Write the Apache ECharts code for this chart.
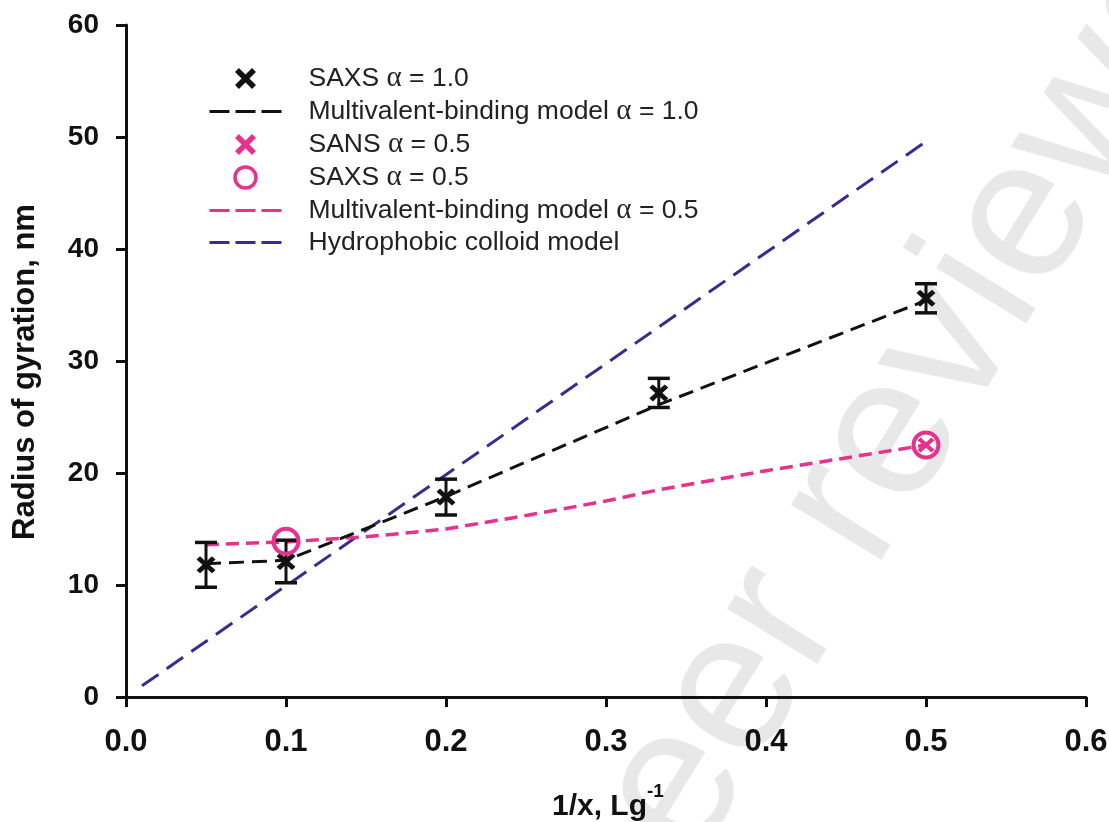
<!DOCTYPE html>
<html>
<head>
<meta charset="utf-8">
<title>Radius of gyration vs 1/x</title>
<script src="https://cdn.jsdelivr.net/npm/echarts@6/dist/echarts.min.js"></script>
<style>
  html, body { margin: 0; padding: 0; background: #fff; }
  #chart { width: 1109px; height: 822px; }
</style>
</head>
<body>
<div id="chart"></div>
<script>
// ---- data ----
const xTicks = [0, 0.1, 0.2, 0.3, 0.4, 0.5, 0.6];
const xTickLabels = ['0.0', '0.1', '0.2', '0.3', '0.4', '0.5', '0.6'];
const yTicks = [0, 10, 20, 30, 40, 50, 60];

// SAXS, alpha = 1.0 (mean and half-width of error bar)
const saxs10X = [0.05, 0.1, 0.2, 0.333, 0.5];
const saxs10Y = [11.8, 12.1, 17.85, 27.15, 35.6];
const saxs10Err = [2.0, 1.9, 1.6, 1.3, 1.3];

// Multivalent-binding model, alpha = 1.0
const model10X = [0.05, 0.1, 0.2, 0.333, 0.5];
const model10Y = [11.9, 12.2, 17.9, 26.1, 35.4];

// SANS, alpha = 0.5
const sans05X = [0.5];
const sans05Y = [22.5];

// SAXS, alpha = 0.5
const saxs05X = [0.1, 0.5];
const saxs05Y = [13.9, 22.5];

// Multivalent-binding model, alpha = 0.5
const model05X = [0.05, 0.1, 0.15, 0.2, 0.25, 0.3, 0.333, 0.4, 0.5];
const model05Y = [13.6, 13.85, 14.3, 15.0, 16.2, 17.5, 18.5, 20.2, 22.5];

// Hydrophobic colloid model
const colloidX = [0.01, 0.5];
const colloidY = [1.0, 49.6];

// ---- styles ----
const BLACK = '#111111';
const PINK = '#e8318c';
const PURPLE = '#3d2a8e';
const CLEAR = 'rgba(255,255,255,0)';
const SANS = 'Liberation Sans, Arial, Helvetica, sans-serif';
const SERIF = 'Liberation Serif, Times New Roman, serif';
const CROSS = 'path://M0,3 L3,0 L8,5 L13,0 L16,3 L11,8 L16,13 L13,16 L8,11 L3,16 L0,13 L5,8 Z';

const pairs = (xs, ys) => xs.map((x, i) => [x, ys[i]]);
const errRows = saxs10X.map((x, i) => [x, saxs10Y[i] - saxs10Err[i], saxs10Y[i] + saxs10Err[i]]);

// legend entry for a dashed model line: line only, no marker
const lineEntry = (name, color) => ({
  name,
  itemStyle: { opacity: 0 },
  lineStyle: { color, width: 3, type: [20, 6] }
});

const chart = echarts.init(document.getElementById('chart'), null, { renderer: 'canvas' });

const option = {
  backgroundColor: '#ffffff',
  animation: false,
  grid: { left: 126, right: 23, top: 25, bottom: 125, containLabel: false, outerBoundsMode: 'none' },
  xAxis: {
    type: 'value',
    min: 0, max: 0.6, interval: 0.1,
    axisLine: { show: true, onZero: false, lineStyle: { color: BLACK, width: 3 } },
    axisTick: { show: true, inside: false, length: 10, lineStyle: { color: BLACK, width: 3 } },
    axisLabel: {
      margin: 30, color: BLACK, fontFamily: SANS, fontWeight: 'bold', fontSize: 31,
      formatter: v => xTickLabels[xTicks.findIndex(t => Math.abs(t - v) < 1e-9)] ?? v.toFixed(1)
    },
    splitLine: { show: false }
  },
  yAxis: {
    type: 'value',
    min: 0, max: 60, interval: 10,
    axisLine: { show: true, onZero: false, lineStyle: { color: BLACK, width: 3 } },
    axisTick: { show: true, inside: false, length: 10, lineStyle: { color: BLACK, width: 3 } },
    axisLabel: {
      margin: 27, color: BLACK, fontFamily: SANS, fontWeight: 'bold', fontSize: 28,
      formatter: v => String(yTicks.find(t => t === v) ?? v)
    },
    splitLine: { show: false }
  },
  legend: {
    orient: 'vertical',
    left: 208, top: 64,
    padding: 0,
    itemWidth: 72, itemHeight: 21, itemGap: 4,
    selectedMode: false,
    textStyle: {
      fontFamily: SANS, fontSize: 26.5, color: '#222222', lineHeight: 26,
      padding: [0, 0, 0, 22],
      rich: { a: { fontFamily: SERIF, fontSize: 29, color: '#222222' } }
    },
    formatter: name => name.replace('α', '{a|α}'),
    data: [
      'SAXS α = 1.0',
      lineEntry('Multivalent-binding model α = 1.0', BLACK),
      'SANS α = 0.5',
      { name: 'SAXS α = 0.5', itemStyle: { color: CLEAR, borderColor: PINK, borderWidth: 3.5 } },
      lineEntry('Multivalent-binding model α = 0.5', PINK),
      lineEntry('Hydrophobic colloid model', PURPLE)
    ]
  },
  graphic: [
    {
      // diagonal page watermark
      type: 'text', z: -10, silent: true,
      x: 632, y: 860, rotation: 1.02,
      style: {
        text: 'Preprint not peer reviewed',
        fill: '#e8e8e8',
        font: 'normal 200px ' + SANS,
        align: 'center', verticalAlign: 'middle'
      }
    },
    {
      type: 'text', silent: true,
      x: 25, y: 372, rotation: Math.PI / 2,
      style: {
        text: 'Radius of gyration, nm', fill: BLACK,
        font: 'bold 31px ' + SANS, align: 'center', verticalAlign: 'middle'
      }
    },
    {
      type: 'text', silent: true,
      x: 647, y: 807,
      style: {
        text: '1/x, Lg', fill: BLACK,
        font: 'bold 30px ' + SANS, align: 'right', verticalAlign: 'middle'
      }
    },
    {
      type: 'text', silent: true,
      x: 647, y: 792,
      style: {
        text: '-1', fill: BLACK,
        font: 'bold 19px ' + SANS, align: 'left', verticalAlign: 'middle'
      }
    }
  ],
  series: [
    {
      name: 'Hydrophobic colloid model',
      type: 'line', symbol: 'none', z: 2,
      data: pairs(colloidX, colloidY),
      lineStyle: { color: PURPLE, width: 3, type: [20, 10] },
      itemStyle: { color: PURPLE }
    },
    {
      name: 'Multivalent-binding model α = 0.5',
      type: 'line', symbol: 'none', z: 3,
      data: pairs(model05X, model05Y),
      lineStyle: { color: PINK, width: 3.5, type: [13, 7] },
      itemStyle: { color: PINK }
    },
    {
      name: 'Multivalent-binding model α = 1.0',
      type: 'line', symbol: 'none', z: 3,
      data: pairs(model10X, model10Y),
      lineStyle: { color: BLACK, width: 3, type: [15, 8] },
      itemStyle: { color: BLACK }
    },
    {
      name: 'SAXS α = 1.0 error',
      type: 'custom', z: 4,
      data: errRows,
      encode: { x: 0, y: [1, 2] },
      renderItem: (params, api) => {
        const x = api.value(0);
        const lo = api.coord([x, api.value(1)]);
        const hi = api.coord([x, api.value(2)]);
        const hw = 11;
        const st = { stroke: BLACK, lineWidth: 3.5 };
        return {
          type: 'group',
          children: [
            { type: 'line', shape: { x1: lo[0], y1: lo[1], x2: hi[0], y2: hi[1] }, style: { stroke: BLACK, lineWidth: 3 } },
            { type: 'line', shape: { x1: lo[0] - hw, y1: lo[1], x2: lo[0] + hw, y2: lo[1] }, style: st },
            { type: 'line', shape: { x1: hi[0] - hw, y1: hi[1], x2: hi[0] + hw, y2: hi[1] }, style: st }
          ]
        };
      }
    },
    {
      name: 'SAXS α = 1.0',
      type: 'scatter', z: 5,
      symbol: CROSS, symbolSize: [19, 17],
      data: pairs(saxs10X, saxs10Y),
      itemStyle: { color: BLACK, opacity: 1 }
    },
    {
      name: 'SAXS α = 0.5',
      type: 'scatter', z: 6,
      symbol: 'circle', symbolSize: 25,
      data: pairs(saxs05X, saxs05Y),
      itemStyle: { color: CLEAR, borderColor: PINK, borderWidth: 4, opacity: 1 }
    },
    {
      name: 'SANS α = 0.5',
      type: 'scatter', z: 7,
      symbol: CROSS, symbolSize: [17, 15],
      data: pairs(sans05X, sans05Y),
      itemStyle: { color: PINK, opacity: 1 }
    }
  ]
};

chart.setOption(option);
</script>
</body>
</html>
